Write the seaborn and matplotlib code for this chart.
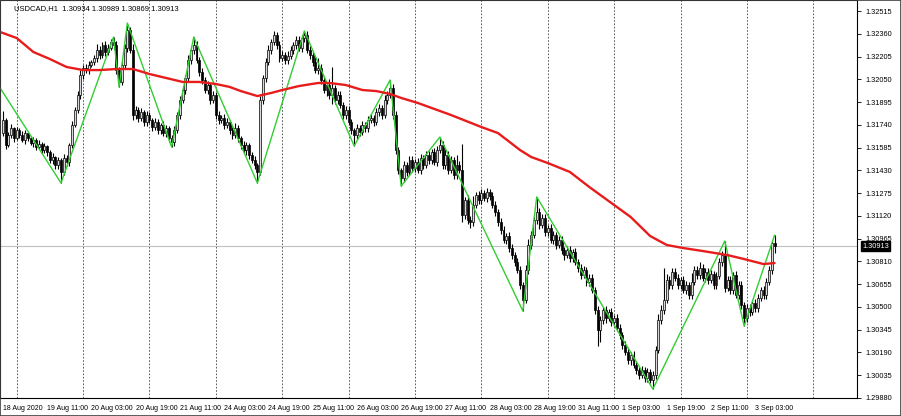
import matplotlib
matplotlib.use("Agg")

import matplotlib.pyplot as plt
import matplotlib.transforms as mtransforms
import numpy as np
import seaborn as sns
from matplotlib.patches import Rectangle

# USDCAD H1 closes, one per bar (18 Aug 19:00 .. 3 Sep 10:00)
closes = [
    1.31773, 1.31603, 1.31671, 1.31718, 1.31650, 1.31705, 1.31671, 1.31637, 1.31684, 1.31650,
    1.31616, 1.31637, 1.31589, 1.31609, 1.31568, 1.31596, 1.31555, 1.31500, 1.31521, 1.31466,
    1.31500, 1.31419, 1.31514, 1.31487, 1.31603, 1.31739, 1.31841, 1.31943, 1.32079, 1.32127,
    1.32113, 1.32147, 1.32168, 1.32195, 1.32249, 1.32215, 1.32284, 1.32236, 1.32263, 1.32304,
    1.32284, 1.32113, 1.32032, 1.32147, 1.32263, 1.32386, 1.32249, 1.31807, 1.31841, 1.31786,
    1.31827, 1.31759, 1.31807, 1.31773, 1.31725, 1.31759, 1.31705, 1.31739, 1.31684, 1.31718,
    1.31650, 1.31623, 1.31705, 1.31807, 1.31909, 1.31977, 1.32059, 1.32181, 1.32249, 1.32284,
    1.32181, 1.32100, 1.32045, 1.31977, 1.32011, 1.31909, 1.31943, 1.31807, 1.31773, 1.31786,
    1.31739, 1.31759, 1.31705, 1.31671, 1.31718, 1.31650, 1.31603, 1.31568, 1.31603, 1.31534,
    1.31500, 1.31466, 1.31419, 1.31909, 1.32059, 1.32168, 1.32249, 1.32304, 1.32352, 1.32284,
    1.32195, 1.32215, 1.32181, 1.32209, 1.32249, 1.32284, 1.32318, 1.32263, 1.32331, 1.32352,
    1.32249, 1.32215, 1.32168, 1.32113, 1.32127, 1.32045, 1.31977, 1.32011, 1.31943, 1.31991,
    1.31909, 1.31943, 1.31875, 1.31807, 1.31841, 1.31759, 1.31705, 1.31671, 1.31718, 1.31691,
    1.31739, 1.31718, 1.31773, 1.31786, 1.31759, 1.31827, 1.31855, 1.31807, 1.31909, 1.31943,
    1.31991, 1.31807, 1.31568, 1.31432, 1.31378, 1.31466, 1.31419, 1.31500, 1.31446, 1.31487,
    1.31432, 1.31514, 1.31466, 1.31534, 1.31500, 1.31555, 1.31487, 1.31568, 1.31603, 1.31466,
    1.31534, 1.31432, 1.31500, 1.31398, 1.31466, 1.31432, 1.31126, 1.31228, 1.31092, 1.31078,
    1.31194, 1.31262, 1.31228, 1.31276, 1.31242, 1.31282, 1.31255, 1.31194, 1.31146, 1.31078,
    1.31024, 1.30956, 1.30983, 1.30901, 1.30853, 1.30806, 1.30751, 1.30649, 1.30547, 1.30751,
    1.30922, 1.30990, 1.31092, 1.31146, 1.31058, 1.31105, 1.31010, 1.31037, 1.30956, 1.30990,
    1.30922, 1.30956, 1.30887, 1.30853, 1.30887, 1.30833, 1.30874, 1.30806, 1.30765, 1.30717,
    1.30751, 1.30670, 1.30697, 1.30615, 1.30479, 1.30343, 1.30411, 1.30479, 1.30424, 1.30465,
    1.30397, 1.30424, 1.30356, 1.30309, 1.30241, 1.30193, 1.30138, 1.30172, 1.30104, 1.30070,
    1.30036, 1.30070, 1.30016, 1.30057, 1.30002, 1.30036, 1.30206, 1.30411, 1.30479, 1.30547,
    1.30683, 1.30649, 1.30738, 1.30697, 1.30649, 1.30683, 1.30615, 1.30649, 1.30581, 1.30670,
    1.30751, 1.30717, 1.30765, 1.30697, 1.30738, 1.30683, 1.30724, 1.30649, 1.30710, 1.30806,
    1.30853, 1.30629, 1.30683, 1.30615, 1.30717, 1.30581, 1.30649, 1.30513, 1.30424, 1.30493,
    1.30465, 1.30527, 1.30493, 1.30561, 1.30615, 1.30581, 1.30670, 1.30751, 1.30934, 1.30913,
]
first_open = 1.31684

# wick lengths in points (1e-5) above / below the body
wick_up = [
    60, 15, 20, 25, 10, 20, 15, 25, 20, 10, 15, 20, 10, 25, 15, 20, 10, 15, 30, 10,
    20, 15, 25, 20, 15, 30, 20, 25, 35, 20, 25, 30, 15, 20, 40, 25, 20, 30, 25, 20,
    34, 25, 20, 30, 25, 47, 20, 40, 25, 20, 30, 15, 25, 20, 15, 30, 20, 15, 25, 20,
    15, 20, 25, 20, 30, 25, 20, 35, 25, 54, 30, 20, 25, 20, 30, 15, 25, 20, 30, 20,
    25, 30, 15, 20, 35, 20, 15, 25, 20, 15, 20, 25, 15, 30, 20, 25, 35, 20, 25, 20,
    30, 25, 20, 35, 25, 20, 30, 25, 20, 27, 25, 30, 20, 35, 70, 25, 30, 20, 40, 140,
    20, 30, 25, 20, 30, 25, 20, 15, 25, 20, 30, 20, 25, 30, 20, 25, 30, 20, 35, 30,
    54, 30, 25, 20, 15, 30, 20, 25, 30, 20, 25, 30, 20, 25, 30, 20, 25, 30, 54, 30,
    40, 25, 30, 20, 70, 25, 180, 20, 35, 25, 60, 20, 25, 30, 20, 25, 20, 30, 25, 20,
    30, 25, 20, 30, 25, 20, 30, 25, 20, 35, 40, 30, 25, 103, 30, 25, 30, 20, 25, 30,
    20, 25, 30, 20, 25, 30, 20, 25, 20, 30, 25, 20, 30, 25, 20, 30, 25, 20, 30, 20,
    25, 20, 30, 25, 20, 30, 25, 20, 30, 25, 20, 30, 20, 25, 20, 25, 30, 40, 35, 220,
    40, 30, 25, 30, 25, 20, 30, 25, 20, 60, 30, 25, 40, 30, 25, 30, 25, 20, 30, 25,
    30, 96, 25, 30, 20, 25, 30, 25, 20, 30, 25, 20, 30, 25, 20, 30, 25, 30, 25, 55,
]
wick_dn = [
    20, 25, 15, 20, 25, 15, 20, 15, 25, 20, 15, 25, 20, 15, 25, 20, 30, 20, 25, 30,
    25, 75, 20, 30, 25, 20, 15, 20, 25, 30, 20, 25, 15, 20, 25, 30, 20, 25, 20, 15,
    25, 30, 34, 20, 25, 30, 20, 35, 25, 30, 20, 25, 30, 20, 25, 20, 30, 25, 20, 25,
    30, 34, 25, 20, 30, 20, 25, 20, 30, 25, 20, 30, 25, 20, 25, 30, 20, 25, 30, 20,
    25, 20, 30, 25, 20, 30, 25, 20, 30, 25, 20, 25, 75, 20, 25, 30, 20, 25, 20, 30,
    25, 20, 30, 25, 20, 30, 25, 20, 25, 30, 20, 25, 30, 20, 25, 30, 20, 40, 25, 60,
    30, 25, 20, 30, 25, 20, 30, 75, 25, 30, 20, 25, 30, 20, 25, 20, 30, 25, 20, 25,
    20, 30, 25, 30, 55, 25, 30, 20, 25, 30, 20, 25, 30, 20, 25, 30, 20, 25, 20, 30,
    25, 30, 20, 25, 30, 20, 50, 25, 30, 40, 25, 20, 30, 25, 20, 30, 25, 20, 30, 25,
    30, 20, 25, 30, 25, 30, 20, 25, 75, 20, 25, 30, 20, 25, 30, 20, 25, 30, 20, 25,
    30, 20, 25, 30, 20, 25, 30, 20, 25, 30, 20, 25, 30, 20, 25, 110, 80, 25, 30, 20,
    25, 30, 20, 25, 30, 20, 25, 30, 20, 25, 30, 20, 25, 30, 20, 61, 25, 20, 30, 25,
    20, 30, 25, 20, 30, 25, 20, 30, 25, 30, 20, 25, 30, 20, 25, 30, 20, 25, 30, 20,
    25, 30, 20, 25, 30, 20, 25, 30, 54, 25, 30, 20, 25, 30, 20, 25, 30, 20, 25, 44,
]

# ZigZag pivots (bar index, high/low), first vertex lies off the left edge
zz_start = 1.31991
zz_bars = [21, 40, 42, 45, 61, 69, 92, 109, 127, 140, 144, 158, 188, 193, 235, 261, 268, 279]
zz_kind = ["L", "H", "L", "H", "L", "H", "L", "H", "L", "H", "L", "H", "L", "H", "L", "H", "L", "H"]

# moving average
ma_bars = [-1, 5, 11, 17, 23, 29, 35, 41, 47, 53, 59, 65, 71, 77, 82, 86, 92, 97, 101, 107,
           114, 118, 124, 130, 135, 140, 144, 150, 156, 162, 173, 179, 187, 191, 197, 205, 212,
           221, 227, 234, 240, 246, 253, 262, 268, 275, 279]
ma_values = [1.32372, 1.32331, 1.32236, 1.32188, 1.32134, 1.32113, 1.32113, 1.32120, 1.32120,
             1.32086, 1.32059, 1.32032, 1.32032, 1.32018, 1.31998, 1.31970, 1.31936, 1.31957,
             1.31977, 1.32004, 1.32025, 1.32025, 1.32011, 1.31977, 1.31970, 1.31950, 1.31923,
             1.31889, 1.31848, 1.31807, 1.31725, 1.31684, 1.31568, 1.31521, 1.31480, 1.31419,
             1.31317, 1.31194, 1.31112, 1.30983, 1.30922, 1.30901, 1.30881, 1.30853, 1.30826,
             1.30792, 1.30799]

day_starts = [5, 29, 53, 77, 101, 125, 149, 173, 197, 221, 245, 269, 293]
label_bars = [0, 16, 32, 48, 64, 80, 96, 112, 128, 144, 160, 176, 192, 208, 224, 240, 256, 272]
date_labels = ["18 Aug 2020", "19 Aug 11:00", "20 Aug 03:00", "20 Aug 19:00", "21 Aug 11:00",
               "24 Aug 03:00", "24 Aug 19:00", "25 Aug 11:00", "26 Aug 03:00", "26 Aug 19:00",
               "27 Aug 11:00", "28 Aug 03:00", "28 Aug 19:00", "31 Aug 11:00", "1 Sep 03:00",
               "1 Sep 19:00", "2 Sep 11:00", "3 Sep 03:00"]
price_ticks = [1.29880, 1.30035, 1.30190, 1.30345, 1.30500, 1.30655, 1.30810, 1.30965, 1.31120,
               1.31275, 1.31430, 1.31585, 1.31740, 1.31895, 1.32050, 1.32205, 1.32360, 1.32515]
last_price = 1.30913
header = "USDCAD,H1  1.30934 1.30989 1.30869 1.30913"

sns.set_style("white")
plt.rcParams["font.family"] = ["Liberation Sans", "DejaVu Sans"]

fig = plt.figure(figsize=(9.01, 4.16), dpi=100)
ax = fig.add_axes([0.0, 18 / 416, 857 / 901, 398 / 416])

x = np.arange(len(closes))
c = np.array(closes)
o = np.array([first_open] + closes[:-1])
hi = np.maximum(o, c) + np.array(wick_up) * 1e-5
lo = np.minimum(o, c) - np.array(wick_dn) * 1e-5

# grid and current price line
for b in day_starts:
    ax.axvline(b, color="#404040", lw=0.6, ls=(0, (2, 2)), zorder=1)
ax.axhline(last_price, color="#c0c0c0", lw=0.8, zorder=1)

# candles
ax.vlines(x, lo, hi, color="black", lw=0.8, zorder=2)
bull = c >= o
body_lo = np.minimum(o, c)
body_h = np.maximum(np.abs(c - o), 0.00002)
ax.bar(x[bull], body_h[bull], bottom=body_lo[bull], width=0.7,
       color="#d8d8d8", edgecolor="black", linewidth=0.5, zorder=3)
ax.bar(x[~bull], body_h[~bull], bottom=body_lo[~bull], width=0.7,
       color="black", edgecolor="black", linewidth=0.5, zorder=3)

# zigzag
zz_x = [-1] + zz_bars
zz_y = [zz_start] + [hi[b] if k == "H" else lo[b] for b, k in zip(zz_bars, zz_kind)]
sns.lineplot(x=zz_x, y=zz_y, color="#32cd32", lw=1.0, sort=False, ax=ax, zorder=4)

# moving average
sns.lineplot(x=ma_bars, y=ma_values, color="#e81c1c", lw=1.7, sort=False, ax=ax, zorder=5)

ax.set_xlim(-1.05, 308.8)
ax.set_ylim(1.29880, 1.32590)

ax.yaxis.tick_right()
ax.set_yticks(price_ticks)
ax.set_yticklabels([f"{p:.5f}" for p in price_ticks])
ax.tick_params(axis="y", direction="out", length=3, width=0.6, labelsize=5.3, pad=3, colors="black")

ax.set_xticks(label_bars)
ax.set_xticklabels(date_labels)
for lbl in ax.get_xticklabels():
    lbl.set_ha("left")
ax.tick_params(axis="x", direction="out", length=3, width=0.6, labelsize=5.0, pad=2, colors="black")
ax.set_xlabel("")
ax.set_ylabel("")

for s in ax.spines.values():
    s.set_visible(True)
    s.set_color("black")
    s.set_linewidth(0.8)

# last price box on the price scale
trans = mtransforms.blended_transform_factory(ax.transAxes, ax.transData)
ax.text(1.006, last_price, f"{last_price:.5f}", transform=trans, color="white",
        fontsize=5.3, va="center", ha="left",
        bbox=dict(boxstyle="square,pad=0.2", fc="black", ec="black"))

fig.text(14 / 901, 1 - 9 / 416, header, fontsize=5.5, va="center", ha="left", color="black")
fig.patches.append(Rectangle((0, 0), 1, 1, transform=fig.transFigure, fill=False,
                             ec="#404040", lw=1.2))

fig.savefig("out.png", dpi=100)
plt.close(fig)
